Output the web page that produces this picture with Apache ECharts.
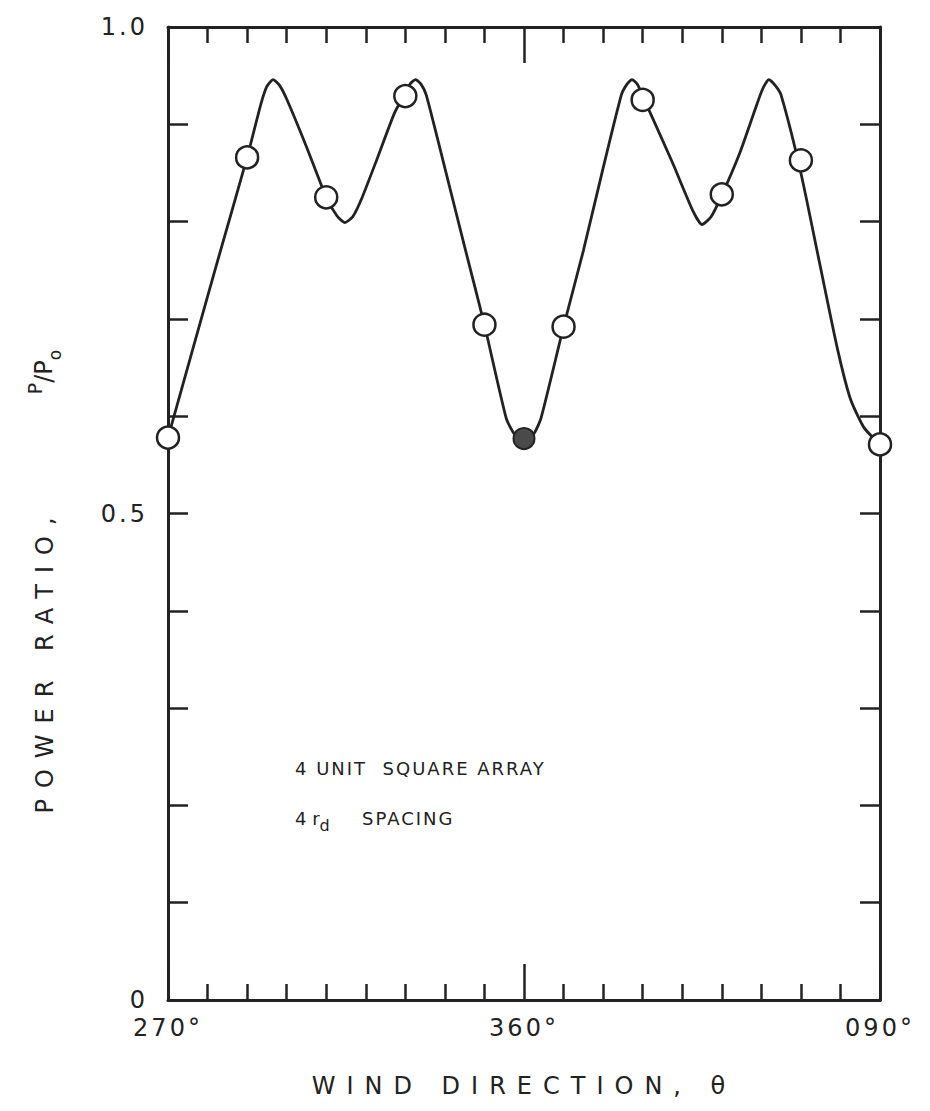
<!DOCTYPE html>
<html>
<head>
<meta charset="utf-8">
<title>Power ratio vs wind direction</title>
<script src="https://cdn.jsdelivr.net/npm/echarts@6/dist/echarts.min.js"></script>
<style>
  html, body { margin: 0; padding: 0; background: #fff; }
  #chart { width: 930px; height: 1111px; }
</style>
</head>
<body>
<div id="chart"></div>
<script>
// measured points (open circles) and the single solid point at 360°
const pointDeg = [270, 290, 310, 330, 350, 370, 390, 410, 430, 450];
const pointRatio = [0.578, 0.866, 0.825, 0.929, 0.694, 0.692, 0.925, 0.828, 0.863, 0.571];
const solidDeg = [360];
const solidRatio = [0.577];

// faired curve
const curveDeg = [270, 276, 282, 290, 293.5, 295, 296.6, 298.2, 300, 305, 310, 312.7, 314.7, 316.7, 319,
  323, 327.3, 330, 331.3, 332.6, 334, 335.3, 340, 345, 350, 355.5, 357.5, 360, 362.5, 364.3, 370, 375,
  380, 384.6, 386, 387.3, 388.7, 390, 397.5, 402.7, 405, 407.3, 410, 414.5, 418.4, 420.3, 421.9, 423.5,
  425, 430, 435, 439.2, 442.5, 446, 450];
const curveRatio = [0.578, 0.665, 0.752, 0.866, 0.921, 0.939, 0.946, 0.940, 0.926, 0.877, 0.825, 0.806, 0.799, 0.805, 0.824,
  0.866, 0.912, 0.932, 0.942, 0.946, 0.941, 0.930, 0.855, 0.774, 0.694, 0.598, 0.582, 0.575, 0.582, 0.598, 0.692, 0.770,
  0.855, 0.930, 0.941, 0.946, 0.941, 0.929, 0.861, 0.811, 0.797, 0.805, 0.827, 0.870, 0.915, 0.936, 0.946, 0.940,
  0.930, 0.850, 0.752, 0.670, 0.618, 0.588, 0.571];

const xTickLabels = { 270: '270°', 360: '360°', 450: '090°' };
const yTickLabels = { 0: '0', 0.5: '0.5', 1: '1.0' };

const ink = '#222';
const font = 'DejaVu Sans';

// extra tracking for the hand-lettered look (applied to the svg text nodes)
const tracking = {
  'WIND DIRECTION, θ': '11px',
  'POWER RATIO,': '11px',
  '4 UNIT  SQUARE ARRAY': '2px',
  'SPACING': '2px',
  '270°': '3px', '360°': '3px', '090°': '3px',
  '0': '3px', '0.5': '3px', '1.0': '3px'
};

function zip(xs, ys) {
  return xs.map((x, i) => [x, ys[i]]);
}

function xAxisOpt(position, showLabel) {
  return {
    type: 'value',
    position: position,
    min: 270,
    max: 450,
    interval: 90,
    axisLine: { show: true, onZero: false, lineStyle: { color: ink, width: 3 } },
    axisTick: { show: true, inside: true, length: 36, lineStyle: { color: ink, width: 2.5 } },
    minorTick: { show: true, splitNumber: 9, length: 16, lineStyle: { color: ink, width: 2.5 } },
    splitLine: { show: false },
    minorSplitLine: { show: false },
    axisLabel: {
      show: showLabel,
      margin: 16,
      color: ink,
      fontFamily: font,
      fontSize: 24,
      formatter: (v) => xTickLabels[v] || ''
    }
  };
}

function yAxisOpt(position, showLabel) {
  return {
    type: 'value',
    position: position,
    min: 0,
    max: 1,
    interval: 0.5,
    axisLine: { show: true, onZero: false, lineStyle: { color: ink, width: 3 } },
    axisTick: { show: true, inside: true, length: 20, lineStyle: { color: ink, width: 2.5 } },
    minorTick: { show: true, splitNumber: 5, length: 20, lineStyle: { color: ink, width: 2.5 } },
    splitLine: { show: false },
    minorSplitLine: { show: false },
    axisLabel: {
      show: showLabel,
      margin: 20,
      color: ink,
      fontFamily: font,
      fontSize: 24,
      formatter: (v) => yTickLabels[v] !== undefined ? yTickLabels[v] : ''
    }
  };
}

const dom = document.getElementById('chart');
const chart = echarts.init(dom, null, { renderer: 'svg' });

chart.setOption({
  animation: false,
  backgroundColor: '#fff',
  grid: { left: 168, top: 27, width: 712, height: 973 },
  xAxis: [
    Object.assign(xAxisOpt('bottom', true), {
      name: 'WIND DIRECTION, θ',
      nameLocation: 'middle',
      nameGap: 74,
      nameTextStyle: { color: ink, fontFamily: font, fontSize: 24 }
    }),
    xAxisOpt('top', false)
  ],
  yAxis: [yAxisOpt('left', true), yAxisOpt('right', false)],
  graphic: [
    {
      type: 'text', x: 45, y: 660, rotation: Math.PI / 2,
      style: { text: 'POWER RATIO,', fill: ink, font: '24px "DejaVu Sans"', align: 'center', verticalAlign: 'middle' }
    },
    {
      type: 'text', x: 44, y: 372, rotation: Math.PI / 2,
      style: {
        text: '{sup|P}{n|/P}{sub|o}', fill: ink, align: 'center', verticalAlign: 'middle',
        rich: {
          sup: { fontSize: 19, fontFamily: font, fill: ink, verticalAlign: 'top', lineHeight: 38 },
          n: { fontSize: 24, fontFamily: font, fill: ink, verticalAlign: 'middle', lineHeight: 38 },
          sub: { fontSize: 17, fontFamily: font, fill: ink, verticalAlign: 'bottom', lineHeight: 38 }
        }
      }
    },
    {
      type: 'text', x: 295, y: 768,
      style: { text: '4 UNIT  SQUARE ARRAY', fill: ink, font: '500 18px "DejaVu Sans"', align: 'left', verticalAlign: 'middle' }
    },
    {
      type: 'text', x: 295, y: 818,
      style: {
        text: '{n|4 r}{sub|d}', fill: ink, align: 'left', verticalAlign: 'middle',
        rich: {
          n: { fontSize: 18, fontFamily: font, fill: ink, verticalAlign: 'middle', lineHeight: 30 },
          sub: { fontSize: 16, fontFamily: font, fill: ink, verticalAlign: 'bottom', lineHeight: 30 }
        }
      }
    },
    {
      type: 'text', x: 362, y: 818,
      style: { text: 'SPACING', fill: ink, font: '18px "DejaVu Sans"', align: 'left', verticalAlign: 'middle' }
    }
  ],
  series: [
    {
      name: 'curve',
      type: 'line',
      data: zip(curveDeg, curveRatio),
      smooth: 0.2,
      showSymbol: false,
      lineStyle: { color: ink, width: 2.8 },
      z: 2
    },
    {
      name: 'open',
      type: 'scatter',
      data: zip(pointDeg, pointRatio),
      symbol: 'circle',
      symbolSize: 22,
      itemStyle: { color: '#fff', borderColor: ink, borderWidth: 2.5, opacity: 1 },
      z: 3
    },
    {
      name: 'solid',
      type: 'scatter',
      data: zip(solidDeg, solidRatio),
      symbol: 'circle',
      symbolSize: 21,
      itemStyle: { color: '#4a4a4a', borderColor: ink, borderWidth: 2, opacity: 1 },
      z: 3
    }
  ]
});

function applyTracking() {
  dom.querySelectorAll('text').forEach((t) => {
    const s = tracking[t.textContent];
    if (s) t.style.letterSpacing = s;
  });
}
chart.on('finished', applyTracking);
applyTracking();
</script>
</body>
</html>
